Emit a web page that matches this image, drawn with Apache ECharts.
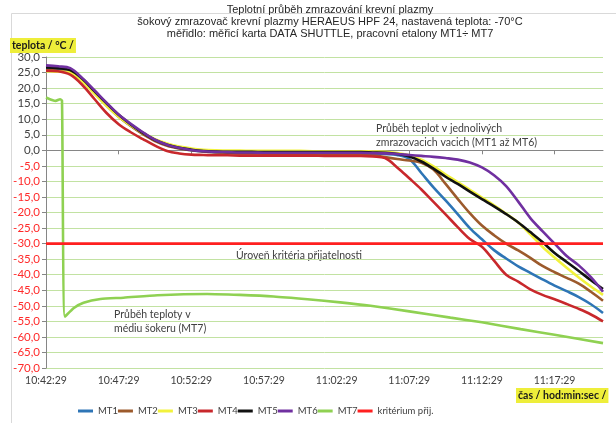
<!DOCTYPE html>
<html>
<head>
<meta charset="utf-8">
<script src="https://cdn.jsdelivr.net/npm/echarts@6/dist/echarts.min.js"></script>
<style>
  html, body { margin: 0; padding: 0; background: #fff; }
  #chart { width: 616px; height: 423px; }
</style>
</head>
<body>
<div id="chart"></div>
<script>
// Measurement start 10:42:29, samples every 50 s (seconds from start)
const startClock = 10 * 3600 + 42 * 60 + 29;
const seconds = [
  0, 50, 100, 150, 200, 250, 300, 350, 400, 450,
  500, 550, 600, 650, 700, 750, 800, 850, 900, 950,
  1000, 1050, 1100, 1150, 1200, 1250, 1300, 1350, 1400, 1450,
  1500, 1550, 1600, 1650, 1700, 1750, 1800, 1850, 1900, 1950,
  2000, 2050, 2100, 2150, 2200, 2250, 2300
];

// Temperatures (°C) in the individual plasma bags
const mt1 = [
  26.2, 26.0, 25.5, 22.8, 18.8, 14.8, 11.0, 8.0, 5.4, 3.2, 1.7, 0.7, 0.0, -0.4, -0.6,
  -0.8, -0.9, -0.9, -1.0, -1.0, -1.0, -1.0, -1.0, -1.0, -1.0, -1.0,
  -1.0, -1.1, -1.2, -1.5, -2.8, -7.3, -11.9, -16.1, -20.5, -25.0, -28.6, -32.1, -34.8,
  -37.3, -39.4, -41.5, -43.5, -45.3, -47.2, -49.5, -52.3
];
const mt2 = [
  25.8, 25.6, 25.0, 22.3, 18.4, 14.4, 10.8, 7.8, 5.2, 3.0, 1.5, 0.6, 0.0, -0.4, -0.7,
  -0.9, -1.0, -1.0, -1.1, -1.1, -1.1, -1.2, -1.2, -1.2, -1.2, -1.3,
  -1.3, -1.5, -2.2, -2.8, -3.3, -4.0, -6.2, -10.8, -15.6, -20.2, -24.2, -27.3, -30.0,
  -32.2, -34.6, -37.2, -39.2, -41.0, -42.9, -45.5, -48.4
];
const mt3 = [
  25.4, 25.3, 25.0, 22.2, 18.2, 14.3, 10.8, 8.0, 5.6, 3.6, 2.2, 1.2, 0.6, 0.2, 0.0,
  -0.1, -0.1, -0.2, -0.2, -0.2, -0.2, -0.2, -0.3, -0.3, -0.3, -0.3,
  -0.3, -0.4, -0.5, -0.9, -1.6, -3.0, -5.2, -7.8, -10.2, -12.7, -15.2, -17.7, -20.4,
  -23.2, -27.0, -31.0, -34.5, -37.8, -40.9, -43.8, -46.5
];
const mt4 = [
  25.6, 25.4, 24.3, 21.0, 16.5, 12.0, 8.4, 5.8, 3.6, 1.5, -0.2, -1.0, -1.4, -1.5, -1.6,
  -1.6, -1.7, -1.7, -1.7, -1.7, -1.7, -1.7, -1.7, -1.8, -1.8, -1.8,
  -1.8, -2.0, -2.5, -5.5, -9.0, -12.6, -16.6, -20.6, -24.7, -28.5, -31.0, -35.5, -40.0,
  -42.2, -44.7, -46.5, -47.9, -49.4, -51.0, -52.8, -55.0
];
const mt5 = [
  26.6, 26.4, 25.8, 23.0, 19.0, 15.1, 11.4, 8.3, 5.6, 3.3, 1.8, 0.8, 0.2, -0.2, -0.4,
  -0.5, -0.5, -0.5, -0.6, -0.6, -0.6, -0.6, -0.6, -0.6, -0.6, -0.6,
  -0.6, -0.7, -0.8, -1.2, -2.0, -3.6, -5.9, -8.5, -10.8, -13.3, -15.7, -18.0, -20.5,
  -23.2, -26.3, -29.5, -33.0, -35.9, -38.8, -41.8, -44.6
];
const mt6 = [
  27.3, 27.0, 26.4, 23.2, 19.3, 15.3, 11.5, 8.5, 5.8, 3.4, 1.8, 0.8, 0.1, -0.3, -0.5,
  -0.6, -0.7, -0.7, -0.8, -0.8, -0.8, -0.8, -0.8, -0.8, -0.8, -0.8,
  -0.8, -0.9, -1.0, -1.2, -1.5, -1.8, -2.1, -2.5, -3.0, -3.9, -5.5, -8.0, -11.5,
  -16.5, -21.8, -26.0, -30.0, -34.0, -37.0, -40.8, -45.5
];

// Freezer medium (MT7) has its own, denser time base around the door closing
const mt7Seconds = [
  0, 25, 40, 58, 66, 78, 115, 155, 225, 320, 460, 665,
  800, 940, 1080, 1215, 1340, 1500, 1670, 1800, 1960, 2100, 2300
];
const mt7 = [
  17.0, 16.2, 15.9, 16.4, 16.0, -53.5, -50.7, -49.0, -47.8, -47.4, -46.6, -46.2,
  -46.5, -47.0, -47.9, -48.9, -50.0, -51.8, -53.8, -55.3, -57.5, -59.3, -62.0
];

// Acceptance criterion
const criterionSeconds = [0, 2300];
const criterion = [-30, -30];

const seriesNames = ['MT1', 'MT2', 'MT3', 'MT4', 'MT5', 'MT6', 'MT7', 'kritérium přij.'];
const seriesColors = ['#2e75b6', '#9c5a2c', '#f2f23c', '#c8282c', '#111111', '#7030a0', '#8fd152', '#ff2020'];

const pairs = (xs, ys) => xs.map((x, i) => [x, ys[i]]);
const bagData = [mt1, mt2, mt3, mt4, mt5, mt6];

function clock(sec) {
  const t = startClock + sec;
  const h = Math.floor(t / 3600);
  const m = Math.floor((t % 3600) / 60);
  const s = t % 60;
  return h + ':' + String(m).padStart(2, '0') + ':' + String(s).padStart(2, '0');
}

const FONT = 'Lato, "Open Sans", sans-serif';

const series = bagData.map((vals, i) => ({
  name: seriesNames[i],
  type: 'line',
  data: pairs(seconds, vals),
  smooth: 0.35,
  showSymbol: false,
  lineStyle: { width: 2.6, color: seriesColors[i] },
  itemStyle: { color: seriesColors[i] }
}));
series.push({
  name: seriesNames[6],
  type: 'line',
  data: pairs(mt7Seconds, mt7),
  smooth: 0.2,
  showSymbol: false,
  lineStyle: { width: 2.6, color: seriesColors[6] },
  itemStyle: { color: seriesColors[6] }
});
series.push({
  name: seriesNames[7],
  type: 'line',
  data: pairs(criterionSeconds, criterion),
  showSymbol: false,
  lineStyle: { width: 2.6, color: seriesColors[7] },
  itemStyle: { color: seriesColors[7] }
});

const chart = echarts.init(document.getElementById('chart'), null, { renderer: 'canvas' });
chart.setOption({
  animation: false,
  backgroundColor: '#ffffff',
  grid: { left: 46, right: 13, top: 57, bottom: 55, containLabel: false },
  legend: {
    data: seriesNames,
    left: 73,
    top: 401,
    icon: 'rect',
    itemWidth: 15,
    itemHeight: 3,
    itemGap: 0,
    textStyle: { fontFamily: FONT, fontSize: 9.5, color: '#404040' }
  },
  xAxis: {
    type: 'value',
    min: 0,
    max: 2300,
    interval: 300,
    axisLine: { show: true, lineStyle: { color: '#868686', width: 1 } },
    axisTick: { show: true, length: 4, lineStyle: { color: '#868686' } },
    axisLabel: {
      showMaxLabel: false,
      margin: 7,
      fontFamily: FONT,
      fontSize: 10.5,
      color: '#404040',
      formatter: (v) => clock(v)
    },
    splitLine: { show: false }
  },
  yAxis: {
    type: 'value',
    min: -70,
    max: 30,
    interval: 5,
    axisLine: { show: true, lineStyle: { color: '#868686', width: 1 } },
    axisTick: { show: true, length: 4, lineStyle: { color: '#868686' } },
    axisLabel: {
      margin: 6,
      fontFamily: FONT,
      fontSize: 11.5,
      color: (v) => (Number(v) < 0 ? '#ff2a2a' : '#404040'),
      formatter: (v) => v.toFixed(1).replace('.', ',')
    },
    splitLine: { show: true, lineStyle: { color: '#c2e2a2', width: 1 } }
  },
  series: series,
  graphic: [
    {
      type: 'rect',
      silent: true,
      shape: { x: 11.5, y: 13.5, width: 640, height: 440 },
      style: { fill: 'none', stroke: '#d9d9d9', lineWidth: 1 }
    },
    {
      type: 'text',
      x: 330, y: 4,
      style: {
        text: 'Teplotní průběh zmrazování krevní plazmy\nšokový zmrazovač krevní plazmy HERAEUS HPF 24, nastavená teplota: -70°C\nměřidlo: měřicí karta DATA SHUTTLE, pracovní etalony MT1÷ MT7',
        align: 'center',
        fill: '#262626',
        font: '11px "Liberation Sans", Arial, sans-serif',
        lineHeight: 12
      }
    },
    {
      type: 'text',
      x: 10, y: 38,
      style: {
        text: 'teplota / °C /',
        fill: '#1a1a1a',
        font: 'bold 10.5px ' + FONT,
        backgroundColor: '#eeee3a',
        padding: [2, 2, 2, 2]
      }
    },
    {
      type: 'text',
      x: 516, y: 388,
      style: {
        text: 'čas / hod:min:sec /',
        fill: '#1a1a1a',
        font: 'bold 10.5px ' + FONT,
        backgroundColor: '#eeee3a',
        padding: [2, 2, 2, 2]
      }
    },
    {
      type: 'text',
      x: 376, y: 122,
      style: {
        text: 'Průběh teplot v jednolivých\nzmrazovacich vacich (MT1 až MT6)',
        fill: '#404040',
        font: '10.5px ' + FONT,
        lineHeight: 14
      }
    },
    {
      type: 'text',
      x: 236, y: 250,
      style: {
        text: 'Úroveň kritéria přijatelnosti',
        fill: '#404040',
        font: '10.5px ' + FONT
      }
    },
    {
      type: 'text',
      x: 114, y: 308,
      style: {
        text: 'Průběh teploty v\nmédiu šokeru (MT7)',
        fill: '#404040',
        font: '10.5px ' + FONT,
        lineHeight: 14
      }
    }
  ]
});
</script>
</body>
</html>
